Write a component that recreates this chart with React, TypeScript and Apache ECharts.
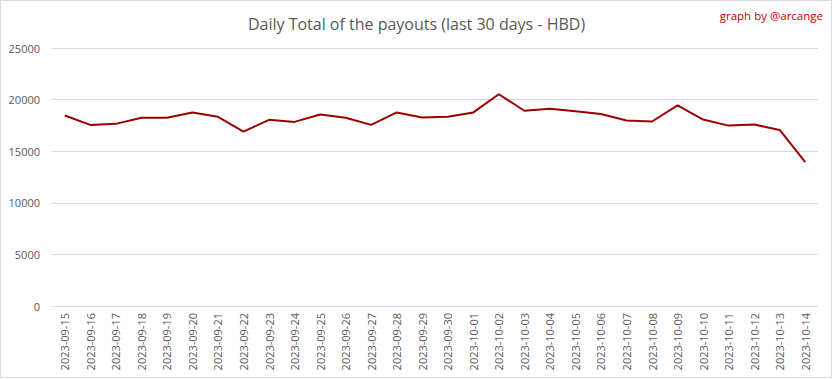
import React, { useEffect, useRef } from "react";
import * as echarts from "echarts";

const categories = [
  "2023-09-15", "2023-09-16", "2023-09-17", "2023-09-18", "2023-09-19", "2023-09-20",
  "2023-09-21", "2023-09-22", "2023-09-23", "2023-09-24", "2023-09-25", "2023-09-26",
  "2023-09-27", "2023-09-28", "2023-09-29", "2023-09-30", "2023-10-01", "2023-10-02",
  "2023-10-03", "2023-10-04", "2023-10-05", "2023-10-06", "2023-10-07", "2023-10-08",
  "2023-10-09", "2023-10-10", "2023-10-11", "2023-10-12", "2023-10-13", "2023-10-14",
];

const payouts = [
  18460, 17550, 17650, 18240, 18240, 18760,
  18330, 16900, 18040, 17840, 18560, 18240,
  17550, 18760, 18270, 18330, 18760, 20520,
  18920, 19120, 18860, 18600, 17970, 17880,
  19440, 18070, 17480, 17580, 17060, 13930,
];

const titleText = "Daily Total of the payouts (last 30 days - HBD)";
const creditText = "graph by @arcange";

export default function App() {
  const ref = useRef<HTMLDivElement>(null);
  useEffect(() => {
    if (!ref.current) return;
    const chart = echarts.init(ref.current, null, { renderer: "svg" });
    chart.setOption({
      animation: false,
      backgroundColor: "#ffffff",
      title: {
        text: titleText,
        left: "center",
        top: 11,
        textStyle: { fontFamily: "Open Sans", fontSize: 16, fontWeight: "normal", color: "#595959" },
      },
      graphic: [
        {
          type: "rect",
          shape: { x: 0.5, y: 0.5, width: 831, height: 377 },
          style: { fill: "none", stroke: "#d9d9d9", lineWidth: 1 },
          silent: true,
        },
        {
          type: "text",
          right: 10,
          top: 9,
          style: { text: creditText, fill: "#c00000", font: "11.5px 'Open Sans'" },
        },
      ],
      grid: { left: 52, right: 15, top: 48, bottom: 73, containLabel: false },
      xAxis: {
        type: "category",
        data: categories,
        boundaryGap: true,
        axisLine: { show: true, lineStyle: { color: "#d9d9d9" } },
        axisTick: { show: false },
        axisLabel: {
          rotate: 90,
          interval: 0,
          margin: 7,
          color: "#595959",
          fontSize: 11,
          fontFamily: "Open Sans",
        },
      },
      yAxis: {
        type: "value",
        min: 0,
        max: 25000,
        interval: 5000,
        axisLine: { show: false },
        axisTick: { show: false },
        splitLine: { lineStyle: { color: "#d9d9d9" } },
        axisLabel: {
          color: "#595959",
          fontSize: 11,
          fontFamily: "Open Sans",
          margin: 12,
          formatter: (v: number) => String(v),
        },
      },
      series: [
        {
          type: "line",
          data: payouts,
          symbol: "none",
          lineStyle: { color: "#9b0000", width: 2 },
        },
      ],
    });
    return () => chart.dispose();
  }, []);
  return (
    <div
      ref={ref}
      style={{ position: "absolute", left: 0, top: 0, width: 833, height: 379 }}
    />
  );
}
